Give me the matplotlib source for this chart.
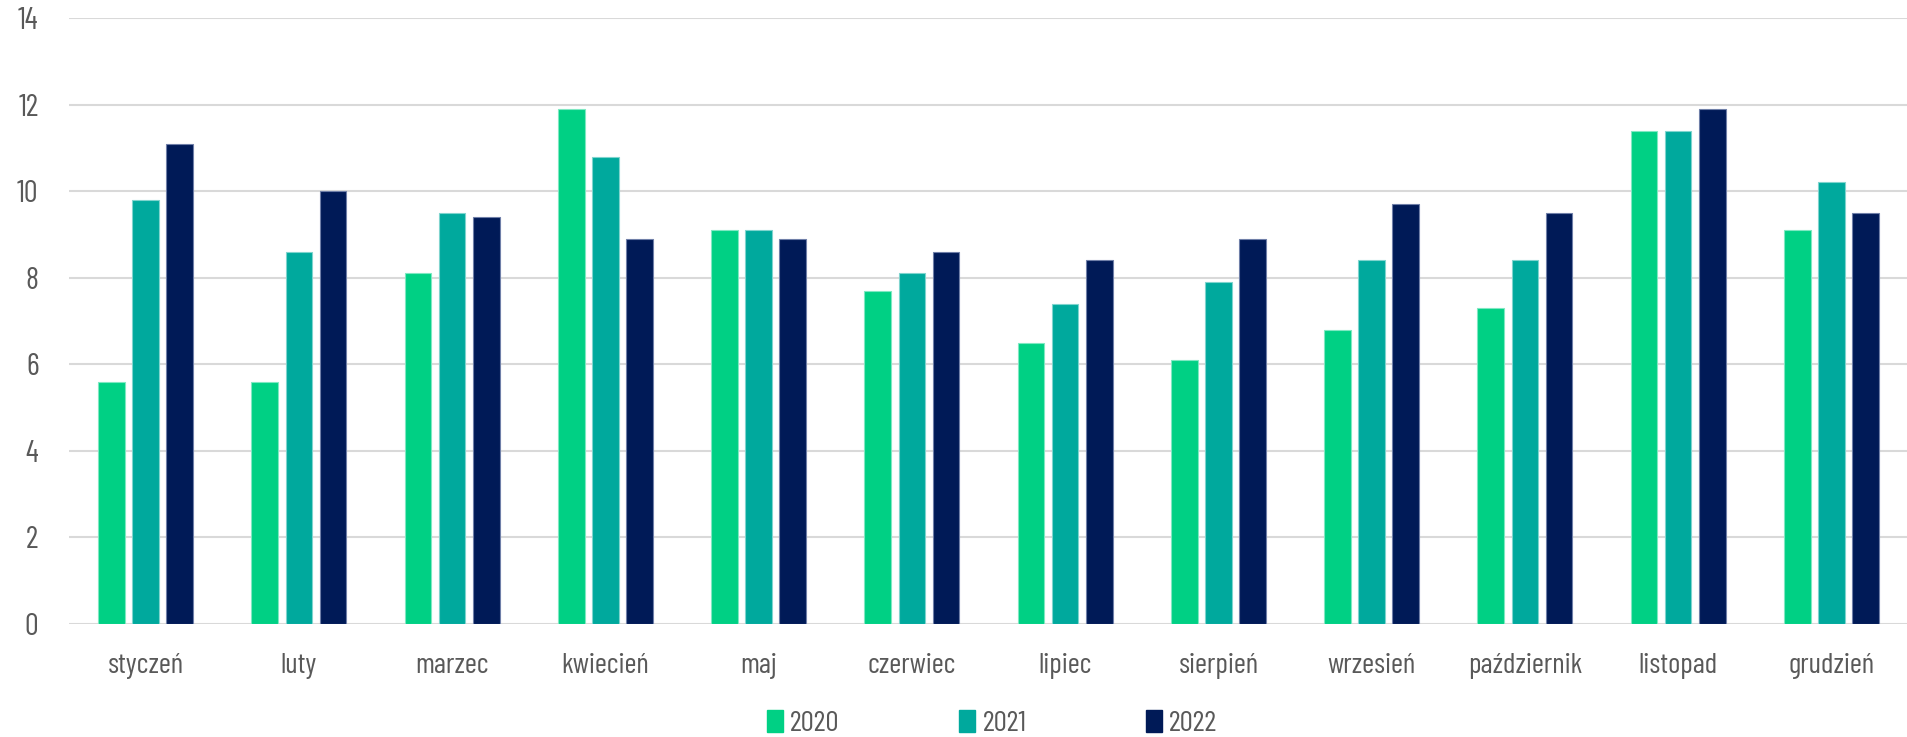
import matplotlib
matplotlib.use("Agg")
import matplotlib.pyplot as plt
from matplotlib import font_manager
from matplotlib.patches import Patch
import numpy as np

months = ["styczeń", "luty", "marzec", "kwiecień", "maj", "czerwiec", "lipiec",
          "sierpień", "wrzesień", "październik", "listopad", "grudzień"]
years = ["2020", "2021", "2022"]
v2020 = [5.6, 5.6, 8.1, 11.9, 9.1, 7.7, 6.5, 6.1, 6.8, 7.3, 11.4, 9.1]
v2021 = [9.8, 8.6, 9.5, 10.8, 9.1, 8.1, 7.4, 7.9, 8.4, 8.4, 11.4, 10.2]
v2022 = [11.1, 10.0, 9.4, 8.9, 8.9, 8.6, 8.4, 8.9, 9.7, 9.5, 11.9, 9.5]
yticks = [0, 2, 4, 6, 8, 10, 12, 14]

colors = ["#00D084", "#00A99D", "#001A57"]
edges = ["#7FE8C2", "#7FD4CE", "#6F7FA8"]

names = {f.name for f in font_manager.fontManager.ttflist}
fam = None
stretch = "normal"
for cand in ["Barlow Condensed", "Roboto Condensed", "Liberation Sans Narrow", "Open Sans Condensed"]:
    if cand in names:
        fam = cand
        break
if fam is None:
    fam = "DejaVu Sans"
    stretch = "condensed"
plt.rcParams["font.family"] = [fam, "DejaVu Sans"]
plt.rcParams["font.stretch"] = stretch

txt = "#595959"
fig = plt.figure(figsize=(19.08, 7.37), dpi=100)
ax = fig.add_axes([69/1908, 1-624/737, 1-69/1908, (624-18)/737])

x = np.arange(len(months))
w = 0.174
step = 0.223
for i, (vals, c, e) in enumerate(zip([v2020, v2021, v2022], colors, edges)):
    ax.bar(x + (i-1)*step, vals, width=w, color=c, edgecolor=e, linewidth=0.8, zorder=3)

ax.set_xlim(-0.5, len(months)-0.5)
ax.set_ylim(0, 14)
ax.set_yticks(yticks)
ax.set_yticklabels([str(t) for t in yticks])
ax.set_xticks(x)
ax.set_xticklabels(months)
ax.grid(axis="y", color="#D9D9D9", linewidth=1.5, zorder=0)
ax.set_axisbelow(True)
for s in ax.spines.values():
    s.set_visible(False)
ax.tick_params(axis="both", length=0, colors=txt)
ax.tick_params(axis="y", labelsize=22, pad=22)
ax.tick_params(axis="x", labelsize=21, pad=21)

handles = [Patch(facecolor=c, edgecolor=c) for c in colors]
leg = fig.legend(handles, years, loc="lower center", bbox_to_anchor=(0.52, -0.036), ncol=3,
                 frameon=False, fontsize=21, handlelength=0.55, handleheight=0.75,
                 handletextpad=0.25, columnspacing=4.1, labelcolor=txt)

fig.savefig("out.png", dpi=100)
